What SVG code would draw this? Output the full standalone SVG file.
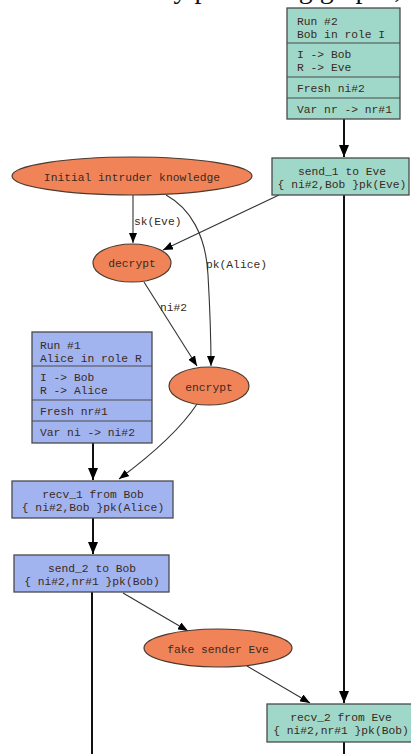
<svg xmlns="http://www.w3.org/2000/svg" width="411" height="754" viewBox="0 0 411 754">
<style>
.t{font-family:"Liberation Mono","DejaVu Sans Mono",monospace;font-size:11.3px;fill:#3a2a22}
.c{text-anchor:middle}
.teal{fill:#9fd8c8;stroke:#4a4a4a;stroke-width:1.3}
.blue{fill:#a2b4f0;stroke:#4a4a4a;stroke-width:1.3}
.orng{fill:#f08458;stroke:#4a3a30;stroke-width:1.2}
.div{stroke:#4a4a4a;stroke-width:1.2}
.run{stroke:#111;stroke-width:2;fill:none}
.e{stroke:#333;stroke-width:1.1;fill:none}
</style>
<defs>
<marker id="ah" viewBox="0 0 10 8" refX="10" refY="4" markerWidth="10" markerHeight="8" markerUnits="userSpaceOnUse" orient="auto">
<path d="M0,0 L10,4 L0,8 z" fill="#000"/>
</marker>
<marker id="ahb" viewBox="0 0 12 10" refX="12" refY="5" markerWidth="12" markerHeight="10" markerUnits="userSpaceOnUse" orient="auto">
<path d="M0,0 L12,5 L0,10 z" fill="#000"/>
</marker>
</defs>
<rect width="411" height="754" fill="#fff"/>
<text x="32" y="-2" style="font-family:'Liberation Serif',serif;font-size:28px;fill:#111">face attack by preserving graphs,</text>

<g id="connectors">
<path class="run" d="M344,119 L344,157" marker-end="url(#ahb)"/>
<path class="run" d="M344,195 L344,703" marker-end="url(#ahb)"/>
<path class="run" d="M344,742 L344,754"/>
<path class="run" d="M93,443 L93,480" marker-end="url(#ahb)"/>
<path class="run" d="M93,518 L93,554" marker-end="url(#ahb)"/>
<path class="run" d="M92,592 L92,754"/>
<path class="e" d="M133,195 L133,243" marker-end="url(#ah)"/>
<path class="e" d="M279,195 L163,250" marker-end="url(#ah)"/>
<path class="e" d="M166,195 C190,208 206,235 208,275 C210,310 211,340 211,366" marker-end="url(#ah)"/>
<path class="e" d="M144,282 L197,366" marker-end="url(#ah)"/>
<path class="e" d="M197,404 C180,430 150,456 119,479" marker-end="url(#ah)"/>
<path class="e" d="M123,593 L188,631" marker-end="url(#ah)"/>
<path class="e" d="M247,666 L310,703" marker-end="url(#ah)"/>
<text class="t" x="134" y="225">sk(Eve)</text>
<text class="t" x="206" y="268">pk(Alice)</text>
<text class="t" x="160" y="311">ni#2</text>
</g>

<g id="run2">
<rect class="teal" x="287" y="8" width="113" height="111"/>
<line class="div" x1="287" y1="43" x2="400" y2="43"/>
<line class="div" x1="287" y1="77" x2="400" y2="77"/>
<line class="div" x1="287" y1="98" x2="400" y2="98"/>
<text class="t" x="297" y="25">Run #2</text>
<text class="t" x="297" y="38">Bob in role I</text>
<text class="t" x="297" y="58">I -&gt; Bob</text>
<text class="t" x="297" y="71">R -&gt; Eve</text>
<text class="t" x="297" y="92">Fresh ni#2</text>
<text class="t" x="297" y="113">Var nr -&gt; nr#1</text>
</g>

<g id="send1">
<rect class="teal" x="272" y="158" width="137" height="37"/>
<text class="t c" x="342" y="175">send_1 to Eve</text>
<text class="t c" x="342" y="188">{ ni#2,Bob }pk(Eve)</text>
</g>

<g id="intruder">
<ellipse class="orng" cx="132" cy="176" rx="120" ry="19"/>
<text class="t c" x="132" y="181">Initial intruder knowledge</text>
</g>

<g id="decrypt">
<ellipse class="orng" cx="132" cy="263" rx="39" ry="19"/>
<text class="t c" x="132" y="267">decrypt</text>
</g>

<g id="encrypt">
<ellipse class="orng" cx="209" cy="386" rx="40" ry="19"/>
<text class="t c" x="209" y="391">encrypt</text>
</g>

<g id="run1">
<rect class="blue" x="32" y="332" width="120" height="111"/>
<line class="div" x1="32" y1="366" x2="152" y2="366"/>
<line class="div" x1="32" y1="400" x2="152" y2="400"/>
<line class="div" x1="32" y1="421" x2="152" y2="421"/>
<text class="t" x="40" y="349">Run #1</text>
<text class="t" x="40" y="362">Alice in role R</text>
<text class="t" x="40" y="381">I -&gt; Bob</text>
<text class="t" x="40" y="394">R -&gt; Alice</text>
<text class="t" x="40" y="415">Fresh nr#1</text>
<text class="t" x="40" y="436">Var ni -&gt; ni#2</text>
</g>

<g id="recv1">
<rect class="blue" x="12" y="481" width="161" height="37"/>
<text class="t c" x="93" y="498">recv_1 from Bob</text>
<text class="t c" x="93" y="511">{ ni#2,Bob }pk(Alice)</text>
</g>

<g id="send2">
<rect class="blue" x="14" y="555" width="155" height="37"/>
<text class="t c" x="92" y="572">send_2 to Bob</text>
<text class="t c" x="92" y="585">{ ni#2,nr#1 }pk(Bob)</text>
</g>

<g id="fake">
<ellipse class="orng" cx="218" cy="648" rx="74" ry="19"/>
<text class="t c" x="218" y="653">fake sender Eve</text>
</g>

<g id="recv2">
<rect class="teal" x="267" y="704" width="152" height="38"/>
<text class="t c" x="341" y="721">recv_2 from Eve</text>
<text class="t c" x="341" y="734">{ ni#2,nr#1 }pk(Bob)</text>
</g>
</svg>
